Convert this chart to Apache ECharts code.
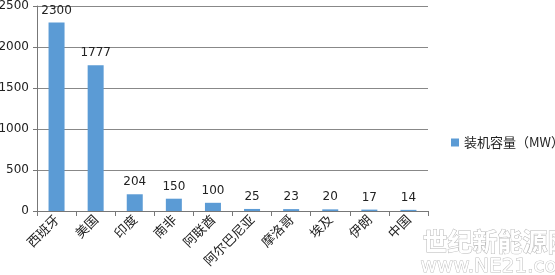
<!DOCTYPE html>
<html>
<head>
<meta charset="utf-8">
<script src="https://cdn.jsdelivr.net/npm/echarts@6/dist/echarts.min.js"></script>
<style>
  html, body { margin: 0; padding: 0; background: #fff; }
  #chart { width: 555px; height: 275px; }
</style>
</head>
<body>
<div id="chart"></div>
<script>
// Installed capacity by country
const countries = ['西班牙', '美国', '印度', '南非', '阿联酋', '阿尔巴尼亚', '摩洛哥', '埃及', '伊朗', '中国'];
const capacity = [2300, 1777, 204, 150, 100, 25, 23, 20, 17, 14];
const seriesName = '装机容量（MW）';
const yTicks = [0, 500, 1000, 1500, 2000, 2500];

const font = '"Noto Sans CJK SC", "Microsoft YaHei", sans-serif';
const numFont = 'Verdana, "DejaVu Sans", sans-serif';
const chart = echarts.init(document.getElementById('chart'), null, { renderer: 'canvas' });

chart.setOption({
  animation: false,
  backgroundColor: '#ffffff',
  grid: { left: 37, top: 6, right: 127, bottom: 64, containLabel: false, outerBoundsMode: 'none' },
  legend: {
    data: [seriesName],
    left: 446,
    top: 131,
    itemWidth: 8,
    itemHeight: 8,
    itemGap: 4,
    icon: 'rect',
    textStyle: { fontFamily: font, fontSize: 13, color: '#222' }
  },
  xAxis: {
    type: 'category',
    data: countries,
    axisLine: { lineStyle: { color: '#777', width: 1 } },
    axisTick: { show: true, length: 5, lineStyle: { color: '#777' } },
    axisLabel: {
      rotate: 45,
      interval: 0,
      margin: 6,
      fontFamily: font,
      fontSize: 13,
      color: '#222'
    }
  },
  yAxis: {
    type: 'value',
    min: yTicks[0],
    max: yTicks[yTicks.length - 1],
    interval: 500,
    axisLine: { show: true, lineStyle: { color: '#777', width: 1 } },
    axisTick: { show: true, length: 4, lineStyle: { color: '#777' } },
    splitLine: { lineStyle: { color: '#888', width: 1 } },
    axisLabel: {
      fontFamily: numFont,
      fontSize: 12,
      color: '#222',
      margin: 8,
      formatter: v => String(v)
    }
  },
  series: [{
    name: seriesName,
    type: 'bar',
    data: capacity,
    barWidth: 16,
    itemStyle: { color: '#5b9bd5' },
    label: {
      show: true,
      position: 'top',
      distance: 6,
      fontFamily: numFont,
      fontSize: 12,
      color: '#222'
    }
  }],
  graphic: [
    {
      type: 'text',
      left: 422,
      top: 228,
      style: {
        text: '世纪新能源网',
        font: 'bold 25px "Noto Sans CJK SC", sans-serif',
        fill: '#ffffff',
        stroke: '#b8b8b8',
        lineWidth: 1
      }
    },
    {
      type: 'text',
      left: 420,
      top: 256,
      style: {
        text: 'www.NE21.com',
        font: '20px "DejaVu Sans", sans-serif',
        fill: '#ffffff',
        stroke: '#c0c0c0',
        lineWidth: 1
      }
    }
  ]
});
</script>
</body>
</html>
